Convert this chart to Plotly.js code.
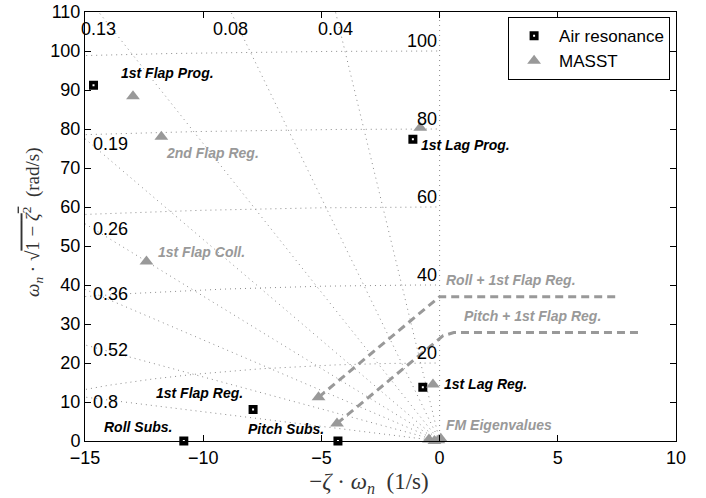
<!DOCTYPE html>
<html>
<head>
<meta charset="utf-8">
<script src="https://cdn.plot.ly/plotly-3.0.1.min.js"></script>
<style>html,body{margin:0;padding:0;background:#fff;}#chart{width:706px;height:498px;}</style>
</head>
<body>
<div id="chart"></div>
<script>
// ---- data ----
const airX = [-14.64, -1.13, -7.89, -10.82, -4.30, -0.71];
const airY = [91.2, 77.4, 8.1, 0.0, 0.0, 13.8];

const masstX = [-12.97, -11.77, -0.82, -12.40, -5.12, -4.34, -0.28, -0.45, -0.22, 0.05, -0.05];
const masstY = [88.4, 78.0, 80.3, 46.0, 11.2, 4.5, 14.5, 0.4, 0.0, 0.6, 0.2];

// dashed root-locus style paths
const rollFlapX = [-5.12, 0.0, 7.45];
const rollFlapY = [11.2, 37.0, 37.0];
const pitchFlapX = [-4.34, 0.15, 0.6, 8.55];
const pitchFlapY = [4.5, 27.0, 27.8, 27.8];

// s-plane grid values
const zetaVals = [0.04, 0.08, 0.13, 0.19, 0.26, 0.36, 0.52, 0.8];
const wnVals = [20, 40, 60, 80, 100];

// mode labels
const modeText = ["1st Flap Prog.", "2nd Flap Reg.", "1st Lag Prog.", "1st Flap Coll.", "1st Flap Reg.",
                  "Roll Subs.", "Pitch Subs.", "Roll + 1st Flap Reg.", "Pitch + 1st Flap Reg.", "1st Lag Reg.", "FM Eigenvalues"];
const modeX = [-13.55, -11.65, -0.87, -12.0, -12.07, -14.27, -8.18, 0.19, 0.95, 0.11, 0.19];
const modeY = [94.3, 73.8, 75.8, 48.4, 12.2, 3.5, 3.0, 41.2, 32.0, 14.5, 4.0];
const modeGray = [false, true, false, true, false, false, false, true, true, false, true];

// axis titles
const xTitle = '−<i>ζ</i> · <i>ω<sub>n</sub></i>  (1/s)';
const yTitle = '<i>ω<sub>n</sub></i> · √<span style="text-decoration:overline">1 − <i>ζ</i><sup>2</sup></span>  (rad/s)';

// ---- view ----
const XMIN = -15, XMAX = 10, YMIN = 0, YMAX = 110;
const GRAY = '#999999';
const GRID = '#8c8c8c';
const SANS = 'Liberation Sans, Arial, sans-serif';
const SERIF = 'Liberation Serif, Times New Roman, serif';

const traces = [];
const annotations = [];

// damping lines (including zeta = 0 imaginary axis)
[0].concat(zetaVals).forEach(z => {
  const R = 300;
  traces.push({
    x: [0, -z * R], y: [0, Math.sqrt(1 - z * z) * R],
    mode: 'lines', type: 'scatter', showlegend: false, hoverinfo: 'skip',
    line: {color: GRID, width: 1, dash: '1px,4px'}
  });
});
// natural-frequency arcs
wnVals.forEach(w => {
  const xs = [], ys = [];
  const N = 600;
  for (let i = 0; i <= N; i++) {
    const phi = (Math.PI / 2) * i / N;
    xs.push(-w * Math.cos(phi));
    ys.push(w * Math.sin(phi));
  }
  traces.push({
    x: xs, y: ys, mode: 'lines', type: 'scatter', showlegend: false, hoverinfo: 'skip',
    line: {color: GRID, width: 1, dash: '1px,4px'}
  });
  annotations.push({
    x: 0, y: w, xref: 'x', yref: 'y', text: String(w), showarrow: false,
    xanchor: 'right', yanchor: 'middle', xshift: -1, yshift: 10,
    font: {family: SANS, size: 18, color: '#000'}
  });
});
// damping labels at the plot border
zetaVals.forEach(z => {
  const s = Math.sqrt(1 - z * z) / z;
  const txt = String(z);
  if (-YMAX / s > XMIN) {
    annotations.push({
      x: -YMAX / s, y: YMAX, xref: 'x', yref: 'y', text: txt, showarrow: false,
      xanchor: 'center', yanchor: 'middle', yshift: -17,
      font: {family: SANS, size: 18, color: '#000'}
    });
  } else {
    annotations.push({
      x: XMIN, y: -XMIN * s, xref: 'x', yref: 'y', text: txt, showarrow: false,
      xanchor: 'left', yanchor: 'middle', xshift: 6, yshift: -5,
      font: {family: SANS, size: 18, color: '#000'}
    });
  }
});

// dashed paths
traces.push({x: rollFlapX, y: rollFlapY, mode: 'lines', type: 'scatter', showlegend: false, hoverinfo: 'skip',
  line: {color: GRAY, width: 3, dash: '8px,5px'}});
traces.push({x: pitchFlapX, y: pitchFlapY, mode: 'lines', type: 'scatter', showlegend: false, hoverinfo: 'skip',
  line: {color: GRAY, width: 3, dash: '8px,5px'}});

// markers
traces.push({
  x: airX, y: airY, name: 'Air resonance', mode: 'markers', type: 'scatter', cliponaxis: false,
  marker: {symbol: 'square', size: 5.5, color: '#ffffff', line: {color: '#000000', width: 3.5}}
});
traces.push({
  x: masstX, y: masstY, name: 'MASST', mode: 'markers', type: 'scatter', cliponaxis: false,
  marker: {symbol: 'triangle-up', size: 12, color: GRAY, line: {width: 0}}
});

// mode labels
modeText.forEach((t, i) => {
  annotations.push({
    x: modeX[i], y: modeY[i], xref: 'x', yref: 'y', text: '<b><i>' + t + '</i></b>', showarrow: false,
    xanchor: 'left', yanchor: 'middle',
    font: {family: SANS, size: 14, color: modeGray[i] ? GRAY : '#000'}
  });
});

// y-axis title placed as rotated text left of the tick labels
annotations.push({
  x: -0.09, y: 0.51, xref: 'paper', yref: 'paper', text: yTitle, showarrow: false,
  textangle: -90, xanchor: 'center', yanchor: 'middle',
  font: {family: SERIF, size: 19, color: '#333'}
});

const tickFont = {family: SANS, size: 18, color: '#000'};
const layout = {
  width: 706, height: 498,
  margin: {l: 85, r: 30, t: 12, b: 57, pad: 0},
  paper_bgcolor: '#fff', plot_bgcolor: '#fff',
  showlegend: true,
  legend: {
    x: 0.99, y: 0.988, xanchor: 'right', yanchor: 'top',
    bordercolor: '#000', borderwidth: 1, bgcolor: '#fff',
    font: {family: SANS, size: 17, color: '#000'},
    itemwidth: 40, tracegroupgap: 0
  },
  xaxis: {
    range: [XMIN, XMAX], tickvals: [-15, -10, -5, 0, 5, 10],
    ticks: 'inside', ticklen: 6, tickcolor: '#000', mirror: 'ticks',
    showline: true, linecolor: '#000', linewidth: 1, showgrid: false, zeroline: false,
    tickfont: tickFont,
    title: {text: xTitle + '&nbsp;&nbsp;&nbsp;&nbsp;', standoff: 6,
      font: {family: SERIF, size: 23, color: '#333'}}
  },
  yaxis: {
    range: [YMIN, YMAX], tickvals: [0,10,20,30,40,50,60,70,80,90,100,110],
    ticks: 'inside', ticklen: 6, tickcolor: '#000', mirror: 'ticks',
    showline: true, linecolor: '#000', linewidth: 1, showgrid: false, zeroline: false,
    tickfont: tickFont
  },
  annotations: annotations
};

Plotly.newPlot('chart', traces, layout, {displayModeBar: false, staticPlot: true});
</script>
</body>
</html>
